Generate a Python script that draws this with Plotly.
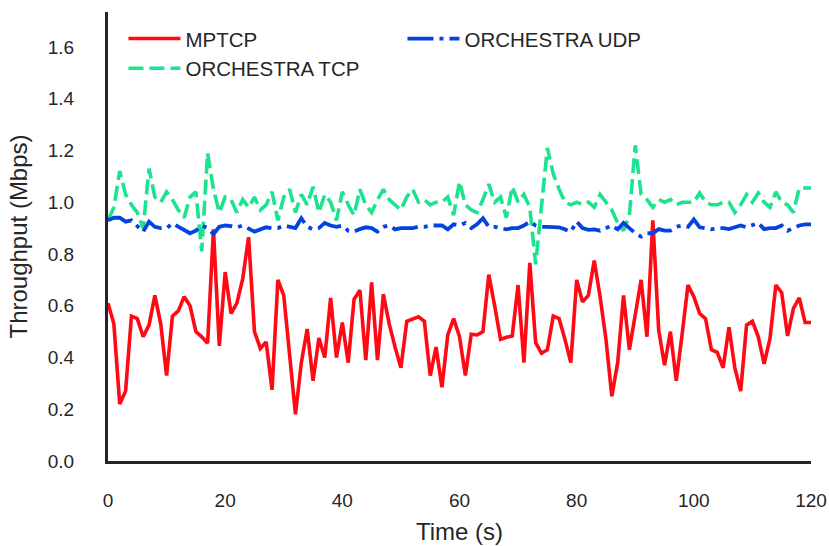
import plotly.graph_objects as go

time_s = list(range(0, 121))

mptcp = [0.61, 0.53, 0.22, 0.27, 0.56, 0.55, 0.48, 0.525, 0.64, 0.53,
         0.33, 0.56, 0.58, 0.635, 0.60, 0.50, 0.48, 0.455, 0.895, 0.445,
         0.73, 0.57, 0.61, 0.705, 0.865, 0.50, 0.435, 0.46, 0.275, 0.70,
         0.64, 0.40, 0.18, 0.38, 0.51, 0.31, 0.475, 0.40, 0.63, 0.40,
         0.535, 0.38, 0.625, 0.66, 0.39, 0.69, 0.39, 0.645, 0.53, 0.44,
         0.36, 0.54, 0.55, 0.557, 0.54, 0.33, 0.44, 0.285, 0.487, 0.55,
         0.48, 0.33, 0.49, 0.487, 0.50, 0.72, 0.60, 0.47, 0.478, 0.483,
         0.68, 0.38, 0.766, 0.457, 0.416, 0.43, 0.56, 0.55, 0.47, 0.38,
         0.70, 0.615, 0.64, 0.775, 0.635, 0.47, 0.25, 0.38, 0.64, 0.43,
         0.565, 0.70, 0.48, 0.93, 0.506, 0.37, 0.50, 0.31, 0.49, 0.68,
         0.635, 0.57, 0.55, 0.43, 0.42, 0.36, 0.517, 0.36, 0.27, 0.525,
         0.54, 0.48, 0.375, 0.474, 0.68, 0.65, 0.483, 0.59, 0.63, 0.535,
         0.535]

orchestra_tcp = [0.93, 0.98, 1.12, 1.03, 0.99, 0.96, 0.90, 1.13, 1.02, 1.00,
                 1.04, 1.01, 0.97, 0.94, 1.02, 1.04, 0.81, 1.19, 1.05, 0.96,
                 1.02, 1.01, 0.96, 1.01, 0.98, 1.02, 0.97, 0.99, 1.04, 0.93,
                 1.02, 1.05, 0.96, 1.03, 0.99, 1.06, 0.96, 1.03, 1.00, 0.93,
                 1.04, 0.99, 0.95, 1.05, 0.99, 0.96, 1.01, 1.05, 1.01, 0.99,
                 0.97, 1.02, 1.05, 1.00, 1.01, 0.99, 1.00, 1.00, 1.02, 0.95,
                 1.08, 0.99, 0.97, 0.96, 1.01, 1.07, 1.00, 1.02, 0.94, 1.06,
                 1.00, 1.03, 0.98, 0.76, 0.99, 1.21, 1.11, 1.05, 1.00, 0.99,
                 1.00, 0.99, 1.00, 0.98, 1.03, 1.00, 0.97, 0.92, 0.89, 0.95,
                 1.22, 1.03, 1.01, 0.98, 1.01, 1.00, 1.01, 0.99, 1.00, 1.00,
                 1.00, 1.035, 1.00, 0.99, 0.99, 1.00, 1.00, 0.96, 0.99, 1.03,
                 1.00, 1.035, 1.00, 0.98, 1.04, 1.00, 0.99, 0.96, 1.055, 1.055,
                 1.055]

orchestra_udp = [0.93, 0.94, 0.94, 0.925, 0.93, 0.91, 0.886, 0.925, 0.905, 0.90,
                 0.90, 0.918, 0.905, 0.89, 0.88, 0.89, 0.91, 0.90, 0.877, 0.905,
                 0.91, 0.908, 0.903, 0.91, 0.90, 0.886, 0.895, 0.903, 0.90, 0.90,
                 0.91, 0.905, 0.90, 0.938, 0.905, 0.895, 0.90, 0.92, 0.91, 0.905,
                 0.91, 0.89, 0.886, 0.896, 0.903, 0.90, 0.886, 0.905, 0.91, 0.895,
                 0.90, 0.90, 0.90, 0.905, 0.905, 0.91, 0.91, 0.91, 0.895, 0.915,
                 0.91, 0.92, 0.90, 0.915, 0.938, 0.905, 0.905, 0.90, 0.895, 0.90,
                 0.90, 0.91, 0.925, 0.91, 0.905, 0.905, 0.905, 0.903, 0.895, 0.886,
                 0.925, 0.90, 0.893, 0.895, 0.89, 0.90, 0.91, 0.895, 0.92, 0.90,
                 0.88, 0.867, 0.88, 0.88, 0.896, 0.89, 0.89, 0.905, 0.91, 0.905,
                 0.934, 0.903, 0.90, 0.895, 0.90, 0.90, 0.896, 0.905, 0.91, 0.903,
                 0.91, 0.92, 0.896, 0.90, 0.90, 0.91, 0.89, 0.90, 0.91, 0.914,
                 0.914]

x_ticks = [0, 20, 40, 60, 80, 100, 120]
y_ticks = [0.0, 0.2, 0.4, 0.6, 0.8, 1.0, 1.2, 1.4, 1.6]

RED = "#ff0a14"
GREEN = "#1de38f"
BLUE = "#0343df"
AX = "#262626"
FONT = "Liberation Sans, Arial, sans-serif"

fig = go.Figure()
fig.add_trace(go.Scatter(x=time_s, y=mptcp, mode="lines", name="MPTCP",
                         line=dict(color=RED, width=3.6), legendrank=1))
fig.add_trace(go.Scatter(x=time_s, y=orchestra_tcp, mode="lines", name="ORCHESTRA TCP",
                         line=dict(color=GREEN, width=3.6, dash="15px,6px"), legendrank=3))
fig.add_trace(go.Scatter(x=time_s, y=orchestra_udp, mode="lines", name="ORCHESTRA UDP",
                         line=dict(color=BLUE, width=3.8, dash="26px,6px,4px,6px"), legendrank=2))

fig.update_layout(
    width=829, height=546,
    margin=dict(l=108, r=18, t=12, b=85),
    paper_bgcolor="white", plot_bgcolor="white",
    font=dict(family=FONT, color=AX, size=19),
    showlegend=True,
    legend=dict(orientation="h", x=0.022, y=0.985, xanchor="left", yanchor="top",
                entrywidth=212, entrywidthmode="pixels", itemwidth=52,
                font=dict(size=20.5, color=AX), bgcolor="rgba(0,0,0,0)",
                traceorder="normal"),
    xaxis=dict(range=[0, 120], tickvals=x_ticks, ticktext=[str(v) for v in x_ticks],
               showgrid=False, zeroline=False, showline=True, linecolor=AX, linewidth=3,
               ticks="", ticklabelstandoff=20, tickfont=dict(size=19, color=AX),
               automargin=False,
               title=dict(text="Time (s)", font=dict(size=24, color=AX), standoff=14)),
    yaxis=dict(range=[0, 1.735], tickvals=y_ticks, ticktext=[f"{v:.1f}" for v in y_ticks],
               showgrid=False, zeroline=False, showline=True, linecolor=AX, linewidth=3,
               ticks="", ticklabelstandoff=27, tickfont=dict(size=19, color=AX),
               automargin=False,
               title=dict(text="Throughput (Mbps)", font=dict(size=24, color=AX), standoff=14)),
)

fig.write_html("out.html")
